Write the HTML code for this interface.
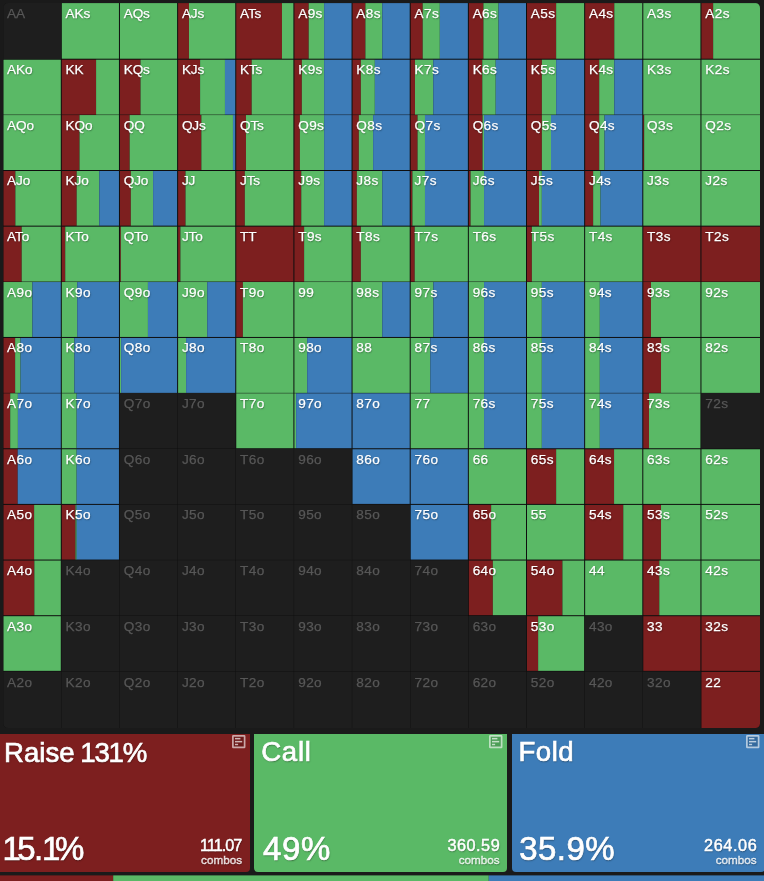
<!DOCTYPE html>
<html><head><meta charset="utf-8"><title>Range</title>
<style>
html,body{margin:0;padding:0}
body{width:764px;height:881px;background:#1a1a1a;position:relative;overflow:hidden;font-family:"Liberation Sans",sans-serif;color:#fff}
svg.g{position:absolute;left:0;top:0}
.l{position:absolute;font-size:13.6px;line-height:1;letter-spacing:-.15px;color:#fff;white-space:nowrap;-webkit-text-stroke:.25px #fff;text-shadow:.5px 1px 1.5px rgba(0,0,0,.4)}
.l.d{letter-spacing:.4px}
.l.e{color:#575757;-webkit-text-stroke:.25px #575757;text-shadow:none}
.p{position:absolute;top:733.9px;height:138px;border-radius:0 0 4px 4px}
.t{position:absolute;line-height:1;white-space:nowrap;color:#fff;text-shadow:.5px 1px 1.5px rgba(0,0,0,.4)}
.t.b{-webkit-text-stroke:.7px #fff}
.t.b2{-webkit-text-stroke:.45px #fff}
.t.cb{color:rgba(255,255,255,.78);-webkit-text-stroke:.4px rgba(255,255,255,.78)}
.ic{position:absolute}
.bar{position:absolute;top:875.4px;height:6px}
</style></head><body>
<svg class="g" width="764" height="732" viewBox="0 0 764 732">
<rect x="3.3" y="3.1" width="756.7" height="725" rx="4.5" fill="#0e0e0e"/>
<clipPath id="k"><rect x="3.3" y="3.1" width="756.7" height="725" rx="4.5"/></clipPath>
<g clip-path="url(#k)">
<rect x="2.97" y="2.77" width="58.16" height="56.26" fill="#1e1e1e"/>
<rect x="61.80" y="3.10" width="57.15" height="55.60" fill="#5ab966"/>
<rect x="119.95" y="3.10" width="57.15" height="55.60" fill="#5ab966"/>
<rect x="178.10" y="3.10" width="10.86" height="55.60" fill="#7d1f1f"/>
<rect x="188.96" y="3.10" width="46.29" height="55.60" fill="#5ab966"/>
<rect x="236.25" y="3.10" width="45.72" height="55.60" fill="#7d1f1f"/>
<rect x="281.97" y="3.10" width="11.43" height="55.60" fill="#5ab966"/>
<rect x="294.40" y="3.10" width="14.29" height="55.60" fill="#7d1f1f"/>
<rect x="308.69" y="3.10" width="15.43" height="55.60" fill="#5ab966"/>
<rect x="324.12" y="3.10" width="27.43" height="55.60" fill="#3d7cb8"/>
<rect x="352.55" y="3.10" width="12.86" height="55.60" fill="#7d1f1f"/>
<rect x="365.41" y="3.10" width="16.86" height="55.60" fill="#5ab966"/>
<rect x="382.27" y="3.10" width="27.43" height="55.60" fill="#3d7cb8"/>
<rect x="410.70" y="3.10" width="12.00" height="55.60" fill="#7d1f1f"/>
<rect x="422.70" y="3.10" width="17.14" height="55.60" fill="#5ab966"/>
<rect x="439.85" y="3.10" width="28.00" height="55.60" fill="#3d7cb8"/>
<rect x="468.85" y="3.10" width="14.57" height="55.60" fill="#7d1f1f"/>
<rect x="483.42" y="3.10" width="15.14" height="55.60" fill="#5ab966"/>
<rect x="498.57" y="3.10" width="27.43" height="55.60" fill="#3d7cb8"/>
<rect x="527.00" y="3.10" width="29.15" height="55.60" fill="#7d1f1f"/>
<rect x="556.15" y="3.10" width="28.00" height="55.60" fill="#5ab966"/>
<rect x="585.15" y="3.10" width="29.15" height="55.60" fill="#7d1f1f"/>
<rect x="614.30" y="3.10" width="28.00" height="55.60" fill="#5ab966"/>
<rect x="643.30" y="3.10" width="57.15" height="55.60" fill="#5ab966"/>
<rect x="701.45" y="3.10" width="11.71" height="55.60" fill="#7d1f1f"/>
<rect x="713.16" y="3.10" width="46.84" height="55.60" fill="#5ab966"/>
<rect x="3.30" y="59.70" width="57.50" height="54.92" fill="#5ab966"/>
<rect x="61.80" y="59.70" width="34.29" height="54.92" fill="#7d1f1f"/>
<rect x="96.09" y="59.70" width="22.86" height="54.92" fill="#5ab966"/>
<rect x="119.95" y="59.70" width="20.57" height="54.92" fill="#7d1f1f"/>
<rect x="140.52" y="59.70" width="36.58" height="54.92" fill="#5ab966"/>
<rect x="178.10" y="59.70" width="22.00" height="54.92" fill="#7d1f1f"/>
<rect x="200.10" y="59.70" width="24.86" height="54.92" fill="#5ab966"/>
<rect x="224.96" y="59.70" width="10.29" height="54.92" fill="#3d7cb8"/>
<rect x="236.25" y="59.70" width="15.43" height="54.92" fill="#7d1f1f"/>
<rect x="251.68" y="59.70" width="41.72" height="54.92" fill="#5ab966"/>
<rect x="294.40" y="59.70" width="7.43" height="54.92" fill="#7d1f1f"/>
<rect x="301.83" y="59.70" width="22.29" height="54.92" fill="#5ab966"/>
<rect x="324.12" y="59.70" width="27.43" height="54.92" fill="#3d7cb8"/>
<rect x="352.55" y="59.70" width="8.29" height="54.92" fill="#7d1f1f"/>
<rect x="360.84" y="59.70" width="14.00" height="54.92" fill="#5ab966"/>
<rect x="374.84" y="59.70" width="34.86" height="54.92" fill="#3d7cb8"/>
<rect x="410.70" y="59.70" width="4.29" height="54.92" fill="#7d1f1f"/>
<rect x="414.99" y="59.70" width="18.29" height="54.92" fill="#5ab966"/>
<rect x="433.27" y="59.70" width="34.58" height="54.92" fill="#3d7cb8"/>
<rect x="468.85" y="59.70" width="13.43" height="54.92" fill="#7d1f1f"/>
<rect x="482.28" y="59.70" width="13.43" height="54.92" fill="#5ab966"/>
<rect x="495.71" y="59.70" width="30.29" height="54.92" fill="#3d7cb8"/>
<rect x="527.00" y="59.70" width="14.86" height="54.92" fill="#7d1f1f"/>
<rect x="541.86" y="59.70" width="14.29" height="54.92" fill="#5ab966"/>
<rect x="556.15" y="59.70" width="28.00" height="54.92" fill="#3d7cb8"/>
<rect x="585.15" y="59.70" width="14.06" height="54.92" fill="#7d1f1f"/>
<rect x="599.21" y="59.70" width="15.09" height="54.92" fill="#5ab966"/>
<rect x="614.30" y="59.70" width="28.00" height="54.92" fill="#3d7cb8"/>
<rect x="643.30" y="59.70" width="57.15" height="54.92" fill="#5ab966"/>
<rect x="701.45" y="59.70" width="58.55" height="54.92" fill="#5ab966"/>
<rect x="3.30" y="115.07" width="57.50" height="54.93" fill="#5ab966"/>
<rect x="61.80" y="115.07" width="17.72" height="54.93" fill="#7d1f1f"/>
<rect x="79.52" y="115.07" width="39.43" height="54.93" fill="#5ab966"/>
<rect x="119.95" y="115.07" width="9.72" height="54.93" fill="#7d1f1f"/>
<rect x="129.67" y="115.07" width="47.43" height="54.93" fill="#5ab966"/>
<rect x="178.10" y="115.07" width="23.26" height="54.93" fill="#7d1f1f"/>
<rect x="201.36" y="115.07" width="31.60" height="54.93" fill="#5ab966"/>
<rect x="232.96" y="115.07" width="2.29" height="54.93" fill="#3d7cb8"/>
<rect x="236.25" y="115.07" width="9.72" height="54.93" fill="#7d1f1f"/>
<rect x="245.97" y="115.07" width="47.43" height="54.93" fill="#5ab966"/>
<rect x="294.40" y="115.07" width="5.49" height="54.93" fill="#7d1f1f"/>
<rect x="299.89" y="115.07" width="24.23" height="54.93" fill="#5ab966"/>
<rect x="324.12" y="115.07" width="27.43" height="54.93" fill="#3d7cb8"/>
<rect x="352.55" y="115.07" width="6.29" height="54.93" fill="#7d1f1f"/>
<rect x="358.84" y="115.07" width="14.29" height="54.93" fill="#5ab966"/>
<rect x="373.12" y="115.07" width="36.58" height="54.93" fill="#3d7cb8"/>
<rect x="410.70" y="115.07" width="6.86" height="54.93" fill="#7d1f1f"/>
<rect x="417.56" y="115.07" width="7.43" height="54.93" fill="#5ab966"/>
<rect x="424.99" y="115.07" width="42.86" height="54.93" fill="#3d7cb8"/>
<rect x="468.85" y="115.07" width="13.72" height="54.93" fill="#7d1f1f"/>
<rect x="482.57" y="115.07" width="1.49" height="54.93" fill="#5ab966"/>
<rect x="484.05" y="115.07" width="41.95" height="54.93" fill="#3d7cb8"/>
<rect x="527.00" y="115.07" width="14.86" height="54.93" fill="#7d1f1f"/>
<rect x="541.86" y="115.07" width="9.14" height="54.93" fill="#5ab966"/>
<rect x="551.00" y="115.07" width="33.15" height="54.93" fill="#3d7cb8"/>
<rect x="585.15" y="115.07" width="14.06" height="54.93" fill="#7d1f1f"/>
<rect x="599.21" y="115.07" width="5.37" height="54.93" fill="#5ab966"/>
<rect x="604.58" y="115.07" width="37.72" height="54.93" fill="#3d7cb8"/>
<rect x="643.30" y="115.07" width="0.86" height="54.93" fill="#7d1f1f"/>
<rect x="644.16" y="115.07" width="56.29" height="54.93" fill="#5ab966"/>
<rect x="701.45" y="115.07" width="58.55" height="54.93" fill="#5ab966"/>
<rect x="3.30" y="171.00" width="12.07" height="54.65" fill="#7d1f1f"/>
<rect x="15.38" y="171.00" width="45.42" height="54.65" fill="#5ab966"/>
<rect x="61.80" y="171.00" width="14.86" height="54.65" fill="#7d1f1f"/>
<rect x="76.66" y="171.00" width="22.63" height="54.65" fill="#5ab966"/>
<rect x="99.29" y="171.00" width="19.66" height="54.65" fill="#3d7cb8"/>
<rect x="119.95" y="171.00" width="10.86" height="54.65" fill="#7d1f1f"/>
<rect x="130.81" y="171.00" width="22.29" height="54.65" fill="#5ab966"/>
<rect x="153.10" y="171.00" width="24.00" height="54.65" fill="#3d7cb8"/>
<rect x="178.10" y="171.00" width="7.43" height="54.65" fill="#7d1f1f"/>
<rect x="185.53" y="171.00" width="49.72" height="54.65" fill="#5ab966"/>
<rect x="236.25" y="171.00" width="8.57" height="54.65" fill="#7d1f1f"/>
<rect x="244.82" y="171.00" width="48.58" height="54.65" fill="#5ab966"/>
<rect x="294.40" y="171.00" width="6.86" height="54.65" fill="#7d1f1f"/>
<rect x="301.26" y="171.00" width="22.86" height="54.65" fill="#5ab966"/>
<rect x="324.12" y="171.00" width="27.43" height="54.65" fill="#3d7cb8"/>
<rect x="352.55" y="171.00" width="4.29" height="54.65" fill="#7d1f1f"/>
<rect x="356.84" y="171.00" width="25.43" height="54.65" fill="#5ab966"/>
<rect x="382.27" y="171.00" width="27.43" height="54.65" fill="#3d7cb8"/>
<rect x="410.70" y="171.00" width="1.71" height="54.65" fill="#7d1f1f"/>
<rect x="412.41" y="171.00" width="12.57" height="54.65" fill="#5ab966"/>
<rect x="424.99" y="171.00" width="42.86" height="54.65" fill="#3d7cb8"/>
<rect x="468.85" y="171.00" width="1.71" height="54.65" fill="#7d1f1f"/>
<rect x="470.56" y="171.00" width="13.49" height="54.65" fill="#5ab966"/>
<rect x="484.05" y="171.00" width="41.95" height="54.65" fill="#3d7cb8"/>
<rect x="527.00" y="171.00" width="12.00" height="54.65" fill="#7d1f1f"/>
<rect x="539.00" y="171.00" width="2.86" height="54.65" fill="#5ab966"/>
<rect x="541.86" y="171.00" width="42.29" height="54.65" fill="#3d7cb8"/>
<rect x="585.15" y="171.00" width="8.00" height="54.65" fill="#7d1f1f"/>
<rect x="593.15" y="171.00" width="7.43" height="54.65" fill="#5ab966"/>
<rect x="600.58" y="171.00" width="41.72" height="54.65" fill="#3d7cb8"/>
<rect x="643.30" y="171.00" width="57.15" height="54.65" fill="#5ab966"/>
<rect x="701.45" y="171.00" width="58.55" height="54.65" fill="#5ab966"/>
<rect x="3.30" y="226.65" width="18.40" height="54.93" fill="#7d1f1f"/>
<rect x="21.70" y="226.65" width="39.10" height="54.93" fill="#5ab966"/>
<rect x="61.80" y="226.65" width="3.43" height="54.93" fill="#7d1f1f"/>
<rect x="65.23" y="226.65" width="53.72" height="54.93" fill="#5ab966"/>
<rect x="119.95" y="226.65" width="0.86" height="54.93" fill="#7d1f1f"/>
<rect x="120.81" y="226.65" width="56.29" height="54.93" fill="#5ab966"/>
<rect x="178.10" y="226.65" width="2.29" height="54.93" fill="#7d1f1f"/>
<rect x="180.39" y="226.65" width="54.86" height="54.93" fill="#5ab966"/>
<rect x="236.25" y="226.65" width="57.15" height="54.93" fill="#7d1f1f"/>
<rect x="294.40" y="226.65" width="9.72" height="54.93" fill="#7d1f1f"/>
<rect x="304.12" y="226.65" width="47.43" height="54.93" fill="#5ab966"/>
<rect x="352.55" y="226.65" width="8.29" height="54.93" fill="#7d1f1f"/>
<rect x="360.84" y="226.65" width="48.86" height="54.93" fill="#5ab966"/>
<rect x="410.70" y="226.65" width="4.00" height="54.93" fill="#7d1f1f"/>
<rect x="414.70" y="226.65" width="53.15" height="54.93" fill="#5ab966"/>
<rect x="468.85" y="226.65" width="57.15" height="54.93" fill="#5ab966"/>
<rect x="527.00" y="226.65" width="4.86" height="54.93" fill="#7d1f1f"/>
<rect x="531.86" y="226.65" width="52.29" height="54.93" fill="#5ab966"/>
<rect x="585.15" y="226.65" width="57.15" height="54.93" fill="#5ab966"/>
<rect x="643.30" y="226.65" width="57.15" height="54.93" fill="#7d1f1f"/>
<rect x="701.45" y="226.65" width="58.55" height="54.93" fill="#7d1f1f"/>
<rect x="3.30" y="282.03" width="29.09" height="54.92" fill="#5ab966"/>
<rect x="32.39" y="282.03" width="28.41" height="54.92" fill="#3d7cb8"/>
<rect x="61.80" y="282.03" width="15.43" height="54.92" fill="#5ab966"/>
<rect x="77.23" y="282.03" width="41.72" height="54.92" fill="#3d7cb8"/>
<rect x="119.95" y="282.03" width="28.00" height="54.92" fill="#5ab966"/>
<rect x="147.95" y="282.03" width="29.15" height="54.92" fill="#3d7cb8"/>
<rect x="178.10" y="282.03" width="29.15" height="54.92" fill="#5ab966"/>
<rect x="207.25" y="282.03" width="28.00" height="54.92" fill="#3d7cb8"/>
<rect x="236.25" y="282.03" width="6.63" height="54.92" fill="#7d1f1f"/>
<rect x="242.88" y="282.03" width="50.52" height="54.92" fill="#5ab966"/>
<rect x="294.40" y="282.03" width="57.15" height="54.92" fill="#5ab966"/>
<rect x="352.55" y="282.03" width="29.72" height="54.92" fill="#5ab966"/>
<rect x="382.27" y="282.03" width="27.43" height="54.92" fill="#3d7cb8"/>
<rect x="410.70" y="282.03" width="22.69" height="54.92" fill="#5ab966"/>
<rect x="433.39" y="282.03" width="34.46" height="54.92" fill="#3d7cb8"/>
<rect x="468.85" y="282.03" width="15.20" height="54.92" fill="#5ab966"/>
<rect x="484.05" y="282.03" width="41.95" height="54.92" fill="#3d7cb8"/>
<rect x="527.00" y="282.03" width="14.86" height="54.92" fill="#5ab966"/>
<rect x="541.86" y="282.03" width="42.29" height="54.92" fill="#3d7cb8"/>
<rect x="585.15" y="282.03" width="14.69" height="54.92" fill="#5ab966"/>
<rect x="599.84" y="282.03" width="42.46" height="54.92" fill="#3d7cb8"/>
<rect x="643.30" y="282.03" width="7.66" height="54.92" fill="#7d1f1f"/>
<rect x="650.96" y="282.03" width="49.49" height="54.92" fill="#5ab966"/>
<rect x="701.45" y="282.03" width="58.55" height="54.92" fill="#5ab966"/>
<rect x="3.30" y="337.95" width="11.85" height="54.92" fill="#7d1f1f"/>
<rect x="15.14" y="337.95" width="5.41" height="54.92" fill="#5ab966"/>
<rect x="20.55" y="337.95" width="40.25" height="54.92" fill="#3d7cb8"/>
<rect x="61.80" y="337.95" width="12.57" height="54.92" fill="#5ab966"/>
<rect x="74.37" y="337.95" width="44.58" height="54.92" fill="#3d7cb8"/>
<rect x="119.95" y="337.95" width="1.14" height="54.92" fill="#5ab966"/>
<rect x="121.09" y="337.95" width="56.01" height="54.92" fill="#3d7cb8"/>
<rect x="178.10" y="337.95" width="8.00" height="54.92" fill="#5ab966"/>
<rect x="186.10" y="337.95" width="49.15" height="54.92" fill="#3d7cb8"/>
<rect x="236.25" y="337.95" width="57.15" height="54.92" fill="#5ab966"/>
<rect x="294.40" y="337.95" width="12.80" height="54.92" fill="#5ab966"/>
<rect x="307.20" y="337.95" width="44.35" height="54.92" fill="#3d7cb8"/>
<rect x="352.55" y="337.95" width="57.15" height="54.92" fill="#5ab966"/>
<rect x="410.70" y="337.95" width="19.60" height="54.92" fill="#5ab966"/>
<rect x="430.30" y="337.95" width="37.55" height="54.92" fill="#3d7cb8"/>
<rect x="468.85" y="337.95" width="15.20" height="54.92" fill="#5ab966"/>
<rect x="484.05" y="337.95" width="41.95" height="54.92" fill="#3d7cb8"/>
<rect x="527.00" y="337.95" width="14.86" height="54.92" fill="#5ab966"/>
<rect x="541.86" y="337.95" width="42.29" height="54.92" fill="#3d7cb8"/>
<rect x="585.15" y="337.95" width="14.69" height="54.92" fill="#5ab966"/>
<rect x="599.84" y="337.95" width="42.46" height="54.92" fill="#3d7cb8"/>
<rect x="643.30" y="337.95" width="17.72" height="54.92" fill="#7d1f1f"/>
<rect x="661.02" y="337.95" width="39.43" height="54.92" fill="#5ab966"/>
<rect x="701.45" y="337.95" width="58.55" height="54.92" fill="#5ab966"/>
<rect x="3.30" y="393.32" width="6.90" height="54.93" fill="#7d1f1f"/>
<rect x="10.20" y="393.32" width="7.71" height="54.93" fill="#5ab966"/>
<rect x="17.91" y="393.32" width="42.89" height="54.93" fill="#3d7cb8"/>
<rect x="61.80" y="393.32" width="14.86" height="54.93" fill="#5ab966"/>
<rect x="76.66" y="393.32" width="42.29" height="54.93" fill="#3d7cb8"/>
<rect x="119.62" y="393.00" width="57.81" height="55.59" fill="#1e1e1e"/>
<rect x="177.77" y="393.00" width="57.81" height="55.59" fill="#1e1e1e"/>
<rect x="236.25" y="393.32" width="57.15" height="54.93" fill="#5ab966"/>
<rect x="294.40" y="393.32" width="1.71" height="54.93" fill="#5ab966"/>
<rect x="296.11" y="393.32" width="55.44" height="54.93" fill="#3d7cb8"/>
<rect x="352.55" y="393.32" width="57.15" height="54.93" fill="#3d7cb8"/>
<rect x="410.70" y="393.32" width="57.15" height="54.93" fill="#5ab966"/>
<rect x="468.85" y="393.32" width="15.20" height="54.93" fill="#5ab966"/>
<rect x="484.05" y="393.32" width="41.95" height="54.93" fill="#3d7cb8"/>
<rect x="527.00" y="393.32" width="14.86" height="54.93" fill="#5ab966"/>
<rect x="541.86" y="393.32" width="42.29" height="54.93" fill="#3d7cb8"/>
<rect x="585.15" y="393.32" width="14.69" height="54.93" fill="#5ab966"/>
<rect x="599.84" y="393.32" width="42.46" height="54.93" fill="#3d7cb8"/>
<rect x="643.30" y="393.32" width="5.71" height="54.93" fill="#7d1f1f"/>
<rect x="649.01" y="393.32" width="51.43" height="54.93" fill="#5ab966"/>
<rect x="701.12" y="393.00" width="59.21" height="55.59" fill="#1e1e1e"/>
<rect x="3.30" y="449.25" width="14.38" height="54.65" fill="#7d1f1f"/>
<rect x="17.68" y="449.25" width="43.12" height="54.65" fill="#3d7cb8"/>
<rect x="61.80" y="449.25" width="14.86" height="54.65" fill="#5ab966"/>
<rect x="76.66" y="449.25" width="42.29" height="54.65" fill="#3d7cb8"/>
<rect x="119.62" y="448.92" width="57.81" height="55.31" fill="#1e1e1e"/>
<rect x="177.77" y="448.92" width="57.81" height="55.31" fill="#1e1e1e"/>
<rect x="235.92" y="448.92" width="57.81" height="55.31" fill="#1e1e1e"/>
<rect x="294.07" y="448.92" width="57.81" height="55.31" fill="#1e1e1e"/>
<rect x="352.55" y="449.25" width="57.15" height="54.65" fill="#3d7cb8"/>
<rect x="410.70" y="449.25" width="57.15" height="54.65" fill="#3d7cb8"/>
<rect x="468.85" y="449.25" width="57.15" height="54.65" fill="#5ab966"/>
<rect x="527.00" y="449.25" width="29.15" height="54.65" fill="#7d1f1f"/>
<rect x="556.15" y="449.25" width="28.00" height="54.65" fill="#5ab966"/>
<rect x="585.15" y="449.25" width="28.92" height="54.65" fill="#7d1f1f"/>
<rect x="614.07" y="449.25" width="28.23" height="54.65" fill="#5ab966"/>
<rect x="643.30" y="449.25" width="57.15" height="54.65" fill="#5ab966"/>
<rect x="701.45" y="449.25" width="58.55" height="54.65" fill="#5ab966"/>
<rect x="3.30" y="504.90" width="30.82" height="54.65" fill="#7d1f1f"/>
<rect x="34.12" y="504.90" width="26.68" height="54.65" fill="#5ab966"/>
<rect x="61.80" y="504.90" width="13.72" height="54.65" fill="#7d1f1f"/>
<rect x="75.52" y="504.90" width="1.14" height="54.65" fill="#5ab966"/>
<rect x="76.66" y="504.90" width="42.29" height="54.65" fill="#3d7cb8"/>
<rect x="119.62" y="504.57" width="57.81" height="55.31" fill="#1e1e1e"/>
<rect x="177.77" y="504.57" width="57.81" height="55.31" fill="#1e1e1e"/>
<rect x="235.92" y="504.57" width="57.81" height="55.31" fill="#1e1e1e"/>
<rect x="294.07" y="504.57" width="57.81" height="55.31" fill="#1e1e1e"/>
<rect x="352.22" y="504.57" width="57.81" height="55.31" fill="#1e1e1e"/>
<rect x="410.70" y="504.90" width="57.15" height="54.65" fill="#3d7cb8"/>
<rect x="468.85" y="504.90" width="22.29" height="54.65" fill="#7d1f1f"/>
<rect x="491.14" y="504.90" width="34.86" height="54.65" fill="#5ab966"/>
<rect x="527.00" y="504.90" width="57.15" height="54.65" fill="#5ab966"/>
<rect x="585.15" y="504.90" width="38.12" height="54.65" fill="#7d1f1f"/>
<rect x="623.27" y="504.90" width="19.03" height="54.65" fill="#5ab966"/>
<rect x="643.30" y="504.90" width="17.72" height="54.65" fill="#7d1f1f"/>
<rect x="661.02" y="504.90" width="39.43" height="54.65" fill="#5ab966"/>
<rect x="701.45" y="504.90" width="58.55" height="54.65" fill="#5ab966"/>
<rect x="3.30" y="560.55" width="31.05" height="54.65" fill="#7d1f1f"/>
<rect x="34.35" y="560.55" width="26.45" height="54.65" fill="#5ab966"/>
<rect x="61.47" y="560.22" width="57.81" height="55.31" fill="#1e1e1e"/>
<rect x="119.62" y="560.22" width="57.81" height="55.31" fill="#1e1e1e"/>
<rect x="177.77" y="560.22" width="57.81" height="55.31" fill="#1e1e1e"/>
<rect x="235.92" y="560.22" width="57.81" height="55.31" fill="#1e1e1e"/>
<rect x="294.07" y="560.22" width="57.81" height="55.31" fill="#1e1e1e"/>
<rect x="352.22" y="560.22" width="57.81" height="55.31" fill="#1e1e1e"/>
<rect x="410.37" y="560.22" width="57.81" height="55.31" fill="#1e1e1e"/>
<rect x="468.85" y="560.55" width="24.00" height="54.65" fill="#7d1f1f"/>
<rect x="492.85" y="560.55" width="33.15" height="54.65" fill="#5ab966"/>
<rect x="527.00" y="560.55" width="35.43" height="54.65" fill="#7d1f1f"/>
<rect x="562.43" y="560.55" width="21.72" height="54.65" fill="#5ab966"/>
<rect x="585.15" y="560.55" width="57.15" height="54.65" fill="#5ab966"/>
<rect x="643.30" y="560.55" width="16.00" height="54.65" fill="#7d1f1f"/>
<rect x="659.30" y="560.55" width="41.15" height="54.65" fill="#5ab966"/>
<rect x="701.45" y="560.55" width="58.55" height="54.65" fill="#5ab966"/>
<rect x="3.30" y="616.20" width="57.50" height="54.65" fill="#5ab966"/>
<rect x="61.47" y="615.87" width="57.81" height="55.31" fill="#1e1e1e"/>
<rect x="119.62" y="615.87" width="57.81" height="55.31" fill="#1e1e1e"/>
<rect x="177.77" y="615.87" width="57.81" height="55.31" fill="#1e1e1e"/>
<rect x="235.92" y="615.87" width="57.81" height="55.31" fill="#1e1e1e"/>
<rect x="294.07" y="615.87" width="57.81" height="55.31" fill="#1e1e1e"/>
<rect x="352.22" y="615.87" width="57.81" height="55.31" fill="#1e1e1e"/>
<rect x="410.37" y="615.87" width="57.81" height="55.31" fill="#1e1e1e"/>
<rect x="468.52" y="615.87" width="57.81" height="55.31" fill="#1e1e1e"/>
<rect x="527.00" y="616.20" width="11.14" height="54.65" fill="#7d1f1f"/>
<rect x="538.14" y="616.20" width="46.01" height="54.65" fill="#5ab966"/>
<rect x="584.82" y="615.87" width="57.81" height="55.31" fill="#1e1e1e"/>
<rect x="643.30" y="616.20" width="57.15" height="54.65" fill="#7d1f1f"/>
<rect x="701.45" y="616.20" width="58.55" height="54.65" fill="#7d1f1f"/>
<rect x="2.97" y="671.52" width="58.16" height="56.91" fill="#1e1e1e"/>
<rect x="61.47" y="671.52" width="57.81" height="56.91" fill="#1e1e1e"/>
<rect x="119.62" y="671.52" width="57.81" height="56.91" fill="#1e1e1e"/>
<rect x="177.77" y="671.52" width="57.81" height="56.91" fill="#1e1e1e"/>
<rect x="235.92" y="671.52" width="57.81" height="56.91" fill="#1e1e1e"/>
<rect x="294.07" y="671.52" width="57.81" height="56.91" fill="#1e1e1e"/>
<rect x="352.22" y="671.52" width="57.81" height="56.91" fill="#1e1e1e"/>
<rect x="410.37" y="671.52" width="57.81" height="56.91" fill="#1e1e1e"/>
<rect x="468.52" y="671.52" width="57.81" height="56.91" fill="#1e1e1e"/>
<rect x="526.67" y="671.52" width="57.81" height="56.91" fill="#1e1e1e"/>
<rect x="584.82" y="671.52" width="57.81" height="56.91" fill="#1e1e1e"/>
<rect x="642.97" y="671.52" width="57.81" height="56.91" fill="#1e1e1e"/>
<rect x="701.45" y="671.85" width="58.55" height="56.25" fill="#7d1f1f"/>
</g>
</svg>
<span class="l e" style="left:7.10px;top:6.99px">AA</span>
<span class="l" style="left:65.60px;top:6.99px">AKs</span>
<span class="l" style="left:123.75px;top:6.99px">AQs</span>
<span class="l" style="left:181.90px;top:6.99px">AJs</span>
<span class="l" style="left:240.05px;top:6.99px">ATs</span>
<span class="l d" style="left:298.20px;top:6.99px">A9s</span>
<span class="l d" style="left:356.35px;top:6.99px">A8s</span>
<span class="l d" style="left:414.50px;top:6.99px">A7s</span>
<span class="l d" style="left:472.65px;top:6.99px">A6s</span>
<span class="l d" style="left:530.80px;top:6.99px">A5s</span>
<span class="l d" style="left:588.95px;top:6.99px">A4s</span>
<span class="l d" style="left:647.10px;top:6.99px">A3s</span>
<span class="l d" style="left:705.25px;top:6.99px">A2s</span>
<span class="l" style="left:7.10px;top:62.99px">AKo</span>
<span class="l" style="left:65.60px;top:62.99px">KK</span>
<span class="l" style="left:123.75px;top:62.99px">KQs</span>
<span class="l" style="left:181.90px;top:62.99px">KJs</span>
<span class="l" style="left:240.05px;top:62.99px">KTs</span>
<span class="l d" style="left:298.20px;top:62.99px">K9s</span>
<span class="l d" style="left:356.35px;top:62.99px">K8s</span>
<span class="l d" style="left:414.50px;top:62.99px">K7s</span>
<span class="l d" style="left:472.65px;top:62.99px">K6s</span>
<span class="l d" style="left:530.80px;top:62.99px">K5s</span>
<span class="l d" style="left:588.95px;top:62.99px">K4s</span>
<span class="l d" style="left:647.10px;top:62.99px">K3s</span>
<span class="l d" style="left:705.25px;top:62.99px">K2s</span>
<span class="l" style="left:7.10px;top:118.64px">AQo</span>
<span class="l" style="left:65.60px;top:118.64px">KQo</span>
<span class="l" style="left:123.75px;top:118.64px">QQ</span>
<span class="l" style="left:181.90px;top:118.64px">QJs</span>
<span class="l" style="left:240.05px;top:118.64px">QTs</span>
<span class="l d" style="left:298.20px;top:118.64px">Q9s</span>
<span class="l d" style="left:356.35px;top:118.64px">Q8s</span>
<span class="l d" style="left:414.50px;top:118.64px">Q7s</span>
<span class="l d" style="left:472.65px;top:118.64px">Q6s</span>
<span class="l d" style="left:530.80px;top:118.64px">Q5s</span>
<span class="l d" style="left:588.95px;top:118.64px">Q4s</span>
<span class="l d" style="left:647.10px;top:118.64px">Q3s</span>
<span class="l d" style="left:705.25px;top:118.64px">Q2s</span>
<span class="l" style="left:7.10px;top:174.29px">AJo</span>
<span class="l" style="left:65.60px;top:174.29px">KJo</span>
<span class="l" style="left:123.75px;top:174.29px">QJo</span>
<span class="l" style="left:181.90px;top:174.29px">JJ</span>
<span class="l" style="left:240.05px;top:174.29px">JTs</span>
<span class="l d" style="left:298.20px;top:174.29px">J9s</span>
<span class="l d" style="left:356.35px;top:174.29px">J8s</span>
<span class="l d" style="left:414.50px;top:174.29px">J7s</span>
<span class="l d" style="left:472.65px;top:174.29px">J6s</span>
<span class="l d" style="left:530.80px;top:174.29px">J5s</span>
<span class="l d" style="left:588.95px;top:174.29px">J4s</span>
<span class="l d" style="left:647.10px;top:174.29px">J3s</span>
<span class="l d" style="left:705.25px;top:174.29px">J2s</span>
<span class="l" style="left:7.10px;top:229.94px">ATo</span>
<span class="l" style="left:65.60px;top:229.94px">KTo</span>
<span class="l" style="left:123.75px;top:229.94px">QTo</span>
<span class="l" style="left:181.90px;top:229.94px">JTo</span>
<span class="l" style="left:240.05px;top:229.94px">TT</span>
<span class="l d" style="left:298.20px;top:229.94px">T9s</span>
<span class="l d" style="left:356.35px;top:229.94px">T8s</span>
<span class="l d" style="left:414.50px;top:229.94px">T7s</span>
<span class="l d" style="left:472.65px;top:229.94px">T6s</span>
<span class="l d" style="left:530.80px;top:229.94px">T5s</span>
<span class="l d" style="left:588.95px;top:229.94px">T4s</span>
<span class="l d" style="left:647.10px;top:229.94px">T3s</span>
<span class="l d" style="left:705.25px;top:229.94px">T2s</span>
<span class="l d" style="left:7.10px;top:285.59px">A9o</span>
<span class="l d" style="left:65.60px;top:285.59px">K9o</span>
<span class="l d" style="left:123.75px;top:285.59px">Q9o</span>
<span class="l d" style="left:181.90px;top:285.59px">J9o</span>
<span class="l d" style="left:240.05px;top:285.59px">T9o</span>
<span class="l d" style="left:298.20px;top:285.59px">99</span>
<span class="l d" style="left:356.35px;top:285.59px">98s</span>
<span class="l d" style="left:414.50px;top:285.59px">97s</span>
<span class="l d" style="left:472.65px;top:285.59px">96s</span>
<span class="l d" style="left:530.80px;top:285.59px">95s</span>
<span class="l d" style="left:588.95px;top:285.59px">94s</span>
<span class="l d" style="left:647.10px;top:285.59px">93s</span>
<span class="l d" style="left:705.25px;top:285.59px">92s</span>
<span class="l d" style="left:7.10px;top:341.24px">A8o</span>
<span class="l d" style="left:65.60px;top:341.24px">K8o</span>
<span class="l d" style="left:123.75px;top:341.24px">Q8o</span>
<span class="l d" style="left:181.90px;top:341.24px">J8o</span>
<span class="l d" style="left:240.05px;top:341.24px">T8o</span>
<span class="l d" style="left:298.20px;top:341.24px">98o</span>
<span class="l d" style="left:356.35px;top:341.24px">88</span>
<span class="l d" style="left:414.50px;top:341.24px">87s</span>
<span class="l d" style="left:472.65px;top:341.24px">86s</span>
<span class="l d" style="left:530.80px;top:341.24px">85s</span>
<span class="l d" style="left:588.95px;top:341.24px">84s</span>
<span class="l d" style="left:647.10px;top:341.24px">83s</span>
<span class="l d" style="left:705.25px;top:341.24px">82s</span>
<span class="l d" style="left:7.10px;top:396.89px">A7o</span>
<span class="l d" style="left:65.60px;top:396.89px">K7o</span>
<span class="l e d" style="left:123.75px;top:396.89px">Q7o</span>
<span class="l e d" style="left:181.90px;top:396.89px">J7o</span>
<span class="l d" style="left:240.05px;top:396.89px">T7o</span>
<span class="l d" style="left:298.20px;top:396.89px">97o</span>
<span class="l d" style="left:356.35px;top:396.89px">87o</span>
<span class="l d" style="left:414.50px;top:396.89px">77</span>
<span class="l d" style="left:472.65px;top:396.89px">76s</span>
<span class="l d" style="left:530.80px;top:396.89px">75s</span>
<span class="l d" style="left:588.95px;top:396.89px">74s</span>
<span class="l d" style="left:647.10px;top:396.89px">73s</span>
<span class="l e d" style="left:705.25px;top:396.89px">72s</span>
<span class="l d" style="left:7.10px;top:452.54px">A6o</span>
<span class="l d" style="left:65.60px;top:452.54px">K6o</span>
<span class="l e d" style="left:123.75px;top:452.54px">Q6o</span>
<span class="l e d" style="left:181.90px;top:452.54px">J6o</span>
<span class="l e d" style="left:240.05px;top:452.54px">T6o</span>
<span class="l e d" style="left:298.20px;top:452.54px">96o</span>
<span class="l d" style="left:356.35px;top:452.54px">86o</span>
<span class="l d" style="left:414.50px;top:452.54px">76o</span>
<span class="l d" style="left:472.65px;top:452.54px">66</span>
<span class="l d" style="left:530.80px;top:452.54px">65s</span>
<span class="l d" style="left:588.95px;top:452.54px">64s</span>
<span class="l d" style="left:647.10px;top:452.54px">63s</span>
<span class="l d" style="left:705.25px;top:452.54px">62s</span>
<span class="l d" style="left:7.10px;top:508.19px">A5o</span>
<span class="l d" style="left:65.60px;top:508.19px">K5o</span>
<span class="l e d" style="left:123.75px;top:508.19px">Q5o</span>
<span class="l e d" style="left:181.90px;top:508.19px">J5o</span>
<span class="l e d" style="left:240.05px;top:508.19px">T5o</span>
<span class="l e d" style="left:298.20px;top:508.19px">95o</span>
<span class="l e d" style="left:356.35px;top:508.19px">85o</span>
<span class="l d" style="left:414.50px;top:508.19px">75o</span>
<span class="l d" style="left:472.65px;top:508.19px">65o</span>
<span class="l d" style="left:530.80px;top:508.19px">55</span>
<span class="l d" style="left:588.95px;top:508.19px">54s</span>
<span class="l d" style="left:647.10px;top:508.19px">53s</span>
<span class="l d" style="left:705.25px;top:508.19px">52s</span>
<span class="l d" style="left:7.10px;top:564.24px">A4o</span>
<span class="l e d" style="left:65.60px;top:564.24px">K4o</span>
<span class="l e d" style="left:123.75px;top:564.24px">Q4o</span>
<span class="l e d" style="left:181.90px;top:564.24px">J4o</span>
<span class="l e d" style="left:240.05px;top:564.24px">T4o</span>
<span class="l e d" style="left:298.20px;top:564.24px">94o</span>
<span class="l e d" style="left:356.35px;top:564.24px">84o</span>
<span class="l e d" style="left:414.50px;top:564.24px">74o</span>
<span class="l d" style="left:472.65px;top:564.24px">64o</span>
<span class="l d" style="left:530.80px;top:564.24px">54o</span>
<span class="l d" style="left:588.95px;top:564.24px">44</span>
<span class="l d" style="left:647.10px;top:564.24px">43s</span>
<span class="l d" style="left:705.25px;top:564.24px">42s</span>
<span class="l d" style="left:7.10px;top:619.89px">A3o</span>
<span class="l e d" style="left:65.60px;top:619.89px">K3o</span>
<span class="l e d" style="left:123.75px;top:619.89px">Q3o</span>
<span class="l e d" style="left:181.90px;top:619.89px">J3o</span>
<span class="l e d" style="left:240.05px;top:619.89px">T3o</span>
<span class="l e d" style="left:298.20px;top:619.89px">93o</span>
<span class="l e d" style="left:356.35px;top:619.89px">83o</span>
<span class="l e d" style="left:414.50px;top:619.89px">73o</span>
<span class="l e d" style="left:472.65px;top:619.89px">63o</span>
<span class="l d" style="left:530.80px;top:619.89px">53o</span>
<span class="l e d" style="left:588.95px;top:619.89px">43o</span>
<span class="l d" style="left:647.10px;top:619.89px">33</span>
<span class="l d" style="left:705.25px;top:619.89px">32s</span>
<span class="l e d" style="left:7.10px;top:675.84px">A2o</span>
<span class="l e d" style="left:65.60px;top:675.84px">K2o</span>
<span class="l e d" style="left:123.75px;top:675.84px">Q2o</span>
<span class="l e d" style="left:181.90px;top:675.84px">J2o</span>
<span class="l e d" style="left:240.05px;top:675.84px">T2o</span>
<span class="l e d" style="left:298.20px;top:675.84px">92o</span>
<span class="l e d" style="left:356.35px;top:675.84px">82o</span>
<span class="l e d" style="left:414.50px;top:675.84px">72o</span>
<span class="l e d" style="left:472.65px;top:675.84px">62o</span>
<span class="l e d" style="left:530.80px;top:675.84px">52o</span>
<span class="l e d" style="left:588.95px;top:675.84px">42o</span>
<span class="l e d" style="left:647.10px;top:675.84px">32o</span>
<span class="l d" style="left:705.25px;top:675.84px">22</span>
<div class="p" style="left:-4px;width:254px;background:#7d1f1f"></div>
<div class="p" style="left:254.4px;width:252.8px;background:#5ab966"></div>
<div class="p" style="left:511.8px;width:252.8px;background:#3d7cb8"></div>
<svg class="ic" style="left:231.55px;top:734.95px" width="14" height="14" viewBox="0 0 14 14"><rect x="0.9" y="0.9" width="11.7" height="11.5" rx="0.35" fill="rgba(0,0,0,.14)" stroke="#fff" stroke-opacity=".62" stroke-width="1.7"/><rect x="3" y="2.9" width="5.4" height="1.5" fill="#fff" fill-opacity=".68"/><rect x="3" y="5.9" width="7.2" height="1.5" fill="#fff" fill-opacity=".68"/><rect x="3" y="8.8" width="3.1" height="1.4" fill="#fff" fill-opacity=".68"/></svg><svg class="ic" style="left:488.65px;top:735.0px" width="14" height="14" viewBox="0 0 14 14"><rect x="0.9" y="0.9" width="11.7" height="11.5" rx="0.35" fill="rgba(0,0,0,.14)" stroke="#fff" stroke-opacity=".62" stroke-width="1.7"/><rect x="3" y="2.9" width="5.4" height="1.5" fill="#fff" fill-opacity=".68"/><rect x="3" y="5.9" width="7.2" height="1.5" fill="#fff" fill-opacity=".68"/><rect x="3" y="8.8" width="3.1" height="1.4" fill="#fff" fill-opacity=".68"/></svg><svg class="ic" style="left:745.75px;top:735.0px" width="14" height="14" viewBox="0 0 14 14"><rect x="0.9" y="0.9" width="11.7" height="11.5" rx="0.35" fill="rgba(0,0,0,.14)" stroke="#fff" stroke-opacity=".62" stroke-width="1.7"/><rect x="3" y="2.9" width="5.4" height="1.5" fill="#fff" fill-opacity=".68"/><rect x="3" y="5.9" width="7.2" height="1.5" fill="#fff" fill-opacity=".68"/><rect x="3" y="8.8" width="3.1" height="1.4" fill="#fff" fill-opacity=".68"/></svg>
<span class="t b" style="left:4.0px;top:738.74px;font-size:27.6px;word-spacing:-1.9px">Raise <span style="letter-spacing:-1.2px">131%</span></span>
<span class="t b" style="left:2.6px;top:832.17px;font-size:33px;"><span style="letter-spacing:-3.65px">1</span><span style="letter-spacing:-1.65px">5</span><span style="letter-spacing:-1.17px">.</span><span style="letter-spacing:-5.4px">1</span>%</span>
<span class="t b2" style="right:522.8px;top:836.90px;font-size:16.3px;letter-spacing:-1.05px">111.07</span>
<span class="t cb" style="right:522.0px;top:854.10px;font-size:11.7px;">combos</span>
<span class="t b" style="left:261.2px;top:738.44px;font-size:27.6px;letter-spacing:0.75px">Call</span>
<span class="t b" style="left:263.0px;top:832.17px;font-size:33px;letter-spacing:0.6px">49%</span>
<span class="t b2" style="right:263.8px;top:837.30px;font-size:16.3px;letter-spacing:0.5px">360.59</span>
<span class="t cb" style="right:264.4px;top:853.70px;font-size:11.7px;">combos</span>
<span class="t b" style="left:518.5px;top:738.44px;font-size:27.6px;letter-spacing:0.5px">Fold</span>
<span class="t b" style="left:519.2px;top:832.17px;font-size:33px;letter-spacing:0.45px">35.9%</span>
<span class="t b2" style="right:6.600000000000023px;top:837.30px;font-size:16.3px;letter-spacing:0.6px">264.06</span>
<span class="t cb" style="right:7.2999999999999545px;top:853.70px;font-size:11.7px;">combos</span>
<svg class="g" style="top:875px" width="764" height="6" viewBox="0 0 764 6"><rect x="0" y="0.4" width="113.2" height="6" fill="#7d1f1f"/><rect x="113.2" y="0.4" width="375.6" height="6" fill="#5ab966"/><rect x="488.8" y="0.4" width="276" height="6" fill="#3d7cb8"/></svg>
</body></html>
